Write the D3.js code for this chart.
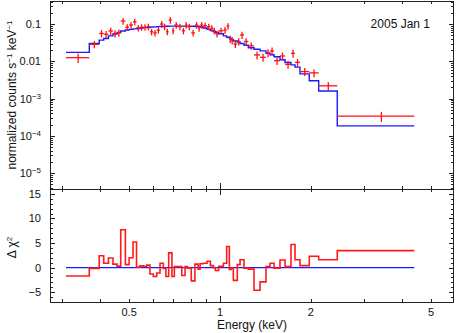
<!DOCTYPE html>
<html>
<head>
<meta charset="utf-8">
<script src="https://cdn.jsdelivr.net/npm/d3@7"></script>
<style>
  body { margin: 0; background: #fff; }
  svg { display: block; font-family: "Liberation Sans", Arial, sans-serif; }
</style>
</head>
<body>
<div id="chart"></div>
<script>
// Bin edges (keV), one more than number of bins
var binEdges = [0.309, 0.369, 0.398, 0.412, 0.427, 0.442, 0.456, 0.469, 0.486, 0.500,
  0.515, 0.529, 0.543, 0.557, 0.572, 0.586, 0.601, 0.617, 0.633, 0.649,
  0.662, 0.676, 0.693, 0.706, 0.726, 0.747, 0.766, 0.779, 0.803, 0.826,
  0.846, 0.859, 0.880, 0.906, 0.929, 0.950, 0.965, 0.990, 1.026, 1.052,
  1.074, 1.088, 1.107, 1.141, 1.165, 1.201, 1.241, 1.296, 1.357, 1.420,
  1.464, 1.510, 1.580, 1.642, 1.718, 1.772, 1.840, 1.975, 2.122, 2.445, 4.40];

// data (normalized counts s^-1 keV^-1)
var dataVals = [0.0125, 0.0285, 0.056, 0.053, 0.065, 0.056, 0.058, 0.12, 0.082, 0.094,
  0.115, 0.079, 0.082, 0.082, 0.085, 0.062, 0.058, 0.069, 0.10, 0.085,
  0.062, 0.128, 0.066, 0.094, 0.085, 0.066, 0.094, 0.085, 0.058, 0.094,
  0.077, 0.094, 0.090, 0.085, 0.077, 0.066, 0.054, 0.066, 0.069, 0.088,
  0.040, 0.037, 0.029, 0.034, 0.051, 0.034, 0.026, 0.0148, 0.0128, 0.017,
  0.019, 0.0104, 0.0139, 0.0083, 0.0164, 0.0094, 0.0053, 0.0049, 0.0022, 0.00034];

// relative 1-sigma error of each data point
var dataErr = [0.28, 0.22, 0.22, 0.22, 0.22, 0.22, 0.22, 0.2, 0.2, 0.2,
  0.2, 0.2, 0.2, 0.2, 0.2, 0.2, 0.2, 0.2, 0.2, 0.2,
  0.2, 0.2, 0.2, 0.2, 0.2, 0.2, 0.2, 0.2, 0.2, 0.2,
  0.2, 0.2, 0.2, 0.2, 0.2, 0.2, 0.2, 0.2, 0.2, 0.2,
  0.22, 0.22, 0.22, 0.22, 0.22, 0.22, 0.22, 0.24, 0.24, 0.24,
  0.24, 0.24, 0.24, 0.24, 0.24, 0.24, 0.24, 0.24, 0.25, 0.3];

// folded model
var modelVals = [0.0174, 0.030, 0.037, 0.041, 0.048, 0.054, 0.059, 0.065, 0.069, 0.072,
  0.074, 0.076, 0.078, 0.080, 0.081, 0.083, 0.084, 0.085, 0.086, 0.087,
  0.087, 0.088, 0.088, 0.088, 0.088, 0.088, 0.088, 0.088, 0.087, 0.086,
  0.085, 0.083, 0.078, 0.072, 0.067, 0.063, 0.060, 0.055, 0.048, 0.044,
  0.041, 0.038, 0.035, 0.033, 0.030, 0.027, 0.023, 0.021, 0.019, 0.0165,
  0.015, 0.0133, 0.011, 0.0093, 0.0080, 0.0070, 0.0046, 0.0030, 0.0016, 0.000186];

// delta chi^2 residuals
var delChi = [-1.7, -0.15, 2.4, 0.9, 1.95, 0.7, 0.3, 7.7, 0.6, 2.0,
  5.2, 0.1, 0.35, 0.25, 0.5, -1.3, -1.8, -1.1, 0.9, -0.15,
  -1.8, 3.0, -1.8, 0.2, 0.2, -1.6, 0.2, -0.1, -2.7, 0.7,
  -0.3, 0.8, 0.9, 1.3, 0.4, 0.0, -0.6, 0.26, 0.9, 4.3,
  -0.4, -0.1, -2.6, 0.6, 1.6, -0.1, -0.3, -4.6, -2.9, 0.2,
  0.9, -0.1, 1.55, 0.2, 4.7, 1.6, 0.4, 2.3, 1.6, 3.45];

var xMajor = [1];
var xMinor = [0.3, 0.4, 0.5, 0.6, 0.7, 0.8, 0.9, 2, 3, 4, 5];
var xLabels = [0.5, 1, 2, 5];
var yTopDecades = [-5, -4, -3, -2, -1];
var yBotMajor = [-5, 0, 5, 10, 15];
var annotation = "2005 Jan 1";

var width = 456, height = 333;
var left = 50, right = 454, topY = 1, midY = 189, botY = 302;

var svg = d3.select("#chart").append("svg")
  .attr("width", width).attr("height", height);

var x = d3.scaleLog().domain([0.2735, 5.955]).range([left, right]);
var yTop = d3.scaleLog().domain([3.77e-6, 0.414]).range([midY, topY]);
var yBot = d3.scaleLinear().domain([-7, 16]).range([botY, midY]);

var bins = d3.range(dataVals.length).map(function(i) {
  return {lo: binEdges[i], hi: binEdges[i + 1], v: dataVals[i],
    e: dataVals[i] * dataErr[i], m: modelVals[i], r: delChi[i]};
});

var axisColor = "#222";
var minorLen = 3, majorLen = 6;

// ---- top panel ----
var topClip = svg.append("clipPath").attr("id", "clipTop")
  .append("rect").attr("x", left).attr("y", topY).attr("width", right - left).attr("height", midY - topY);

var gTop = svg.append("g").attr("clip-path", "url(#clipTop)");

var stepPts = [];
bins.forEach(function(b) { stepPts.push([b.lo, b.m]); stepPts.push([b.hi, b.m]); });
gTop.append("path")
  .attr("d", d3.line().x(function(d) { return x(d[0]); }).y(function(d) { return yTop(d[1]); })(stepPts))
  .attr("fill", "none").attr("stroke", "#1a1aff").attr("stroke-width", 1.4);

var crosses = gTop.selectAll(".pt").data(bins).enter().append("g").attr("class", "pt");
crosses.append("line")
  .attr("x1", function(d) { return x(d.lo); })
  .attr("x2", function(d) { return x(d.hi); })
  .attr("y1", function(d) { return yTop(d.v); })
  .attr("y2", function(d) { return yTop(d.v); });
crosses.append("line")
  .attr("x1", function(d) { return x((d.lo + d.hi) / 2); })
  .attr("x2", function(d) { return x((d.lo + d.hi) / 2); })
  .attr("y1", function(d) { return yTop(d.v - d.e); })
  .attr("y2", function(d) { return yTop(d.v + d.e); });
crosses.selectAll("line").attr("stroke", "#ff1010").attr("stroke-width", 1.3);

// ---- bottom panel ----
svg.append("line")
  .attr("x1", x(binEdges[0])).attr("x2", x(binEdges[binEdges.length - 1]))
  .attr("y1", yBot(0)).attr("y2", yBot(0))
  .attr("stroke", "#1a1aff").attr("stroke-width", 1.2);

var resPts = [];
bins.forEach(function(b) { resPts.push([b.lo, b.r]); resPts.push([b.hi, b.r]); });
svg.append("path")
  .attr("d", d3.line().x(function(d) { return x(d[0]); }).y(function(d) { return yBot(d[1]); })(resPts))
  .attr("fill", "none").attr("stroke", "#ff1a1a").attr("stroke-width", 1.6);

// ---- frames ----
[[topY, midY], [midY, botY]].forEach(function(p) {
  svg.append("rect")
    .attr("x", left + 0.5).attr("y", p[0] + 0.5)
    .attr("width", right - left - 1).attr("height", p[1] - p[0])
    .attr("fill", "none").attr("stroke", axisColor).attr("stroke-width", 1);
});

var ticks = svg.append("g").attr("stroke", axisColor).attr("stroke-width", 1);

function xTicks(list, len) {
  list.forEach(function(v) {
    var px = Math.round(x(v)) + 0.5;
    [topY, midY].forEach(function(yy) {
      ticks.append("line").attr("x1", px).attr("x2", px).attr("y1", yy).attr("y2", yy + len);
    });
    [midY, botY].forEach(function(yy) {
      ticks.append("line").attr("x1", px).attr("x2", px).attr("y1", yy).attr("y2", yy - len);
    });
  });
}
xTicks(xMajor, majorLen);
xTicks(xMinor, minorLen);

function yTick(py, len) {
  py = Math.round(py) + 0.5;
  ticks.append("line").attr("x1", left).attr("x2", left + len).attr("y1", py).attr("y2", py);
  ticks.append("line").attr("x1", right).attr("x2", right - len).attr("y1", py).attr("y2", py);
}

yTopDecades.forEach(function(p) {
  yTick(yTop(Math.pow(10, p)), 5);
  for (var k = 2; k <= 9; k++) {
    var v = k * Math.pow(10, p);
    if (v <= yTop.domain()[1]) yTick(yTop(v), 3);
  }
});
[2, 3, 4, 5, 6, 7, 8, 9].forEach(function(k) {
  var v = k * 1e-6;
  if (v >= yTop.domain()[0]) yTick(yTop(v), 3);
});

d3.range(-7, 17).forEach(function(v) {
  if (yBotMajor.indexOf(v) >= 0) yTick(yBot(v), 5);
  else yTick(yBot(v), 3);
});

// ---- labels ----
var fs = 11;
var txt = svg.append("g").attr("fill", "#111").style("font-size", fs + "px");

yTopDecades.forEach(function(p) {
  var t = txt.append("text")
    .attr("x", 41).attr("y", yTop(Math.pow(10, p)) + 4)
    .attr("text-anchor", "end");
  if (p >= -2) {
    t.text(p === -1 ? "0.1" : "0.01");
  } else {
    t.append("tspan").text("10");
    t.append("tspan").attr("dy", -4).style("font-size", "8px").text("\u2212" + (-p));
  }
});

yBotMajor.forEach(function(v) {
  txt.append("text")
    .attr("x", 41).attr("y", yBot(v) + 4)
    .attr("text-anchor", "end")
    .text(v < 0 ? "\u2212" + (-v) : String(v));
});

xLabels.forEach(function(v) {
  txt.append("text")
    .attr("x", x(v)).attr("y", 316)
    .attr("text-anchor", "middle")
    .text(String(v));
});

txt.append("text")
  .attr("x", (left + right) / 2).attr("y", 329)
  .attr("text-anchor", "middle").style("font-size", "12px")
  .text("Energy (keV)");

txt.append("text")
  .attr("x", 430).attr("y", 28)
  .attr("text-anchor", "end").style("font-size", "12px")
  .text(annotation);

var yl = txt.append("text")
  .attr("transform", "translate(16," + ((topY + midY) / 2) + ") rotate(-90)")
  .attr("text-anchor", "middle").style("font-size", "12px");
yl.append("tspan").text("normalized counts s");
yl.append("tspan").attr("dy", -4).style("font-size", "8px").text("\u22121");
yl.append("tspan").attr("dy", 4).text(" keV");
yl.append("tspan").attr("dy", -4).style("font-size", "8px").text("\u22121");

var dl = txt.append("text")
  .attr("transform", "translate(16," + ((midY + botY) / 2 + 2) + ") rotate(-90)")
  .attr("text-anchor", "middle").style("font-size", "12px");
dl.append("tspan").text("\u0394 \u03c7");
dl.append("tspan").attr("dy", -4).style("font-size", "8px").text("2");
</script>
</body>
</html>
